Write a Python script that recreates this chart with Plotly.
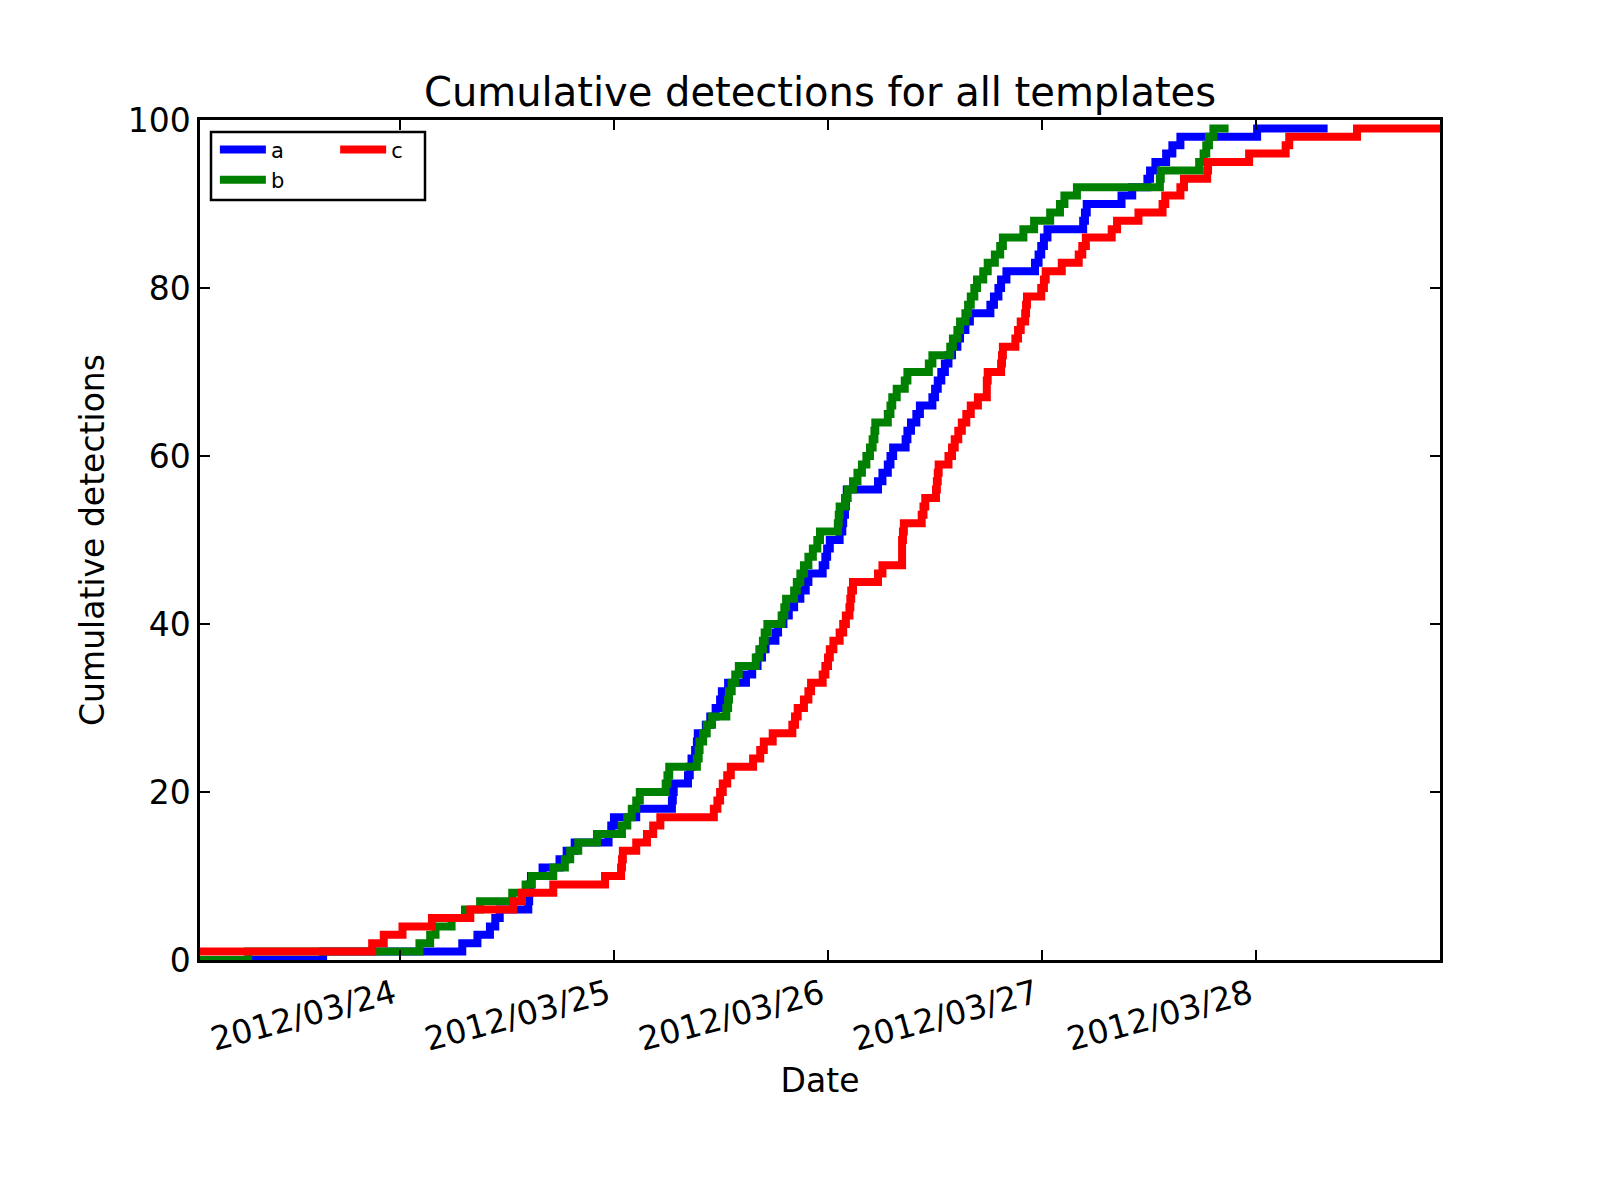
import pandas as pd
import plotly.graph_objects as go

START = pd.Timestamp("2012-03-23 00:00")

series_names = ["a", "b", "c"]
series_colors = ["#0000ff", "#008000", "#ff0000"]

# detection times (hours after 2012-03-23 00:00), one entry per detection
a_hours = [
    15.4, 31.0, 32.7, 34.1, 34.7, 35.2, 38.4, 38.5, 38.6, 38.7,
    40.0, 41.9, 42.7, 43.6, 47.4, 47.7, 48.0, 50.5, 54.5, 54.6,
    54.7, 56.3, 56.5, 56.7, 57.1, 57.3, 57.4, 58.3, 58.8, 59.4,
    59.9, 60.1, 60.8, 62.8, 63.5, 64.1, 64.6, 65.0, 66.1, 66.4,
    67.0, 67.6, 68.2, 68.9, 69.5, 69.8, 71.4, 71.7, 71.9, 72.2,
    73.3, 73.6, 73.7, 73.9, 74.0, 74.1, 77.6, 78.1, 78.7, 79.0,
    79.3, 80.7, 80.9, 81.3, 81.9, 82.3, 83.7, 84.0, 84.3, 84.7,
    85.1, 85.5, 85.9, 86.5, 86.8, 87.4, 87.9, 90.2, 90.6, 91.1,
    91.4, 92.0, 95.2, 95.6, 95.9, 96.2, 96.6, 100.6, 100.8, 101.0,
    104.9, 106.1, 107.8, 108.1, 108.7, 109.9, 110.6, 111.5, 120.1,
]
b_hours = [
    7.0, 26.2, 27.4, 28.0, 29.8, 31.3, 33.0, 36.6, 38.1, 38.8,
    41.2, 42.5, 43.1, 44.0, 46.1, 48.9, 49.5, 50.0, 50.5, 50.9,
    53.8, 54.0, 54.2, 57.3, 57.5, 57.6, 58.0, 58.4, 59.0, 60.6,
    60.8, 60.9, 61.2, 61.6, 62.0, 63.9, 64.3, 64.7, 64.9, 65.2,
    66.8, 67.1, 67.3, 68.2, 68.5, 68.9, 69.3, 69.8, 70.3, 70.8,
    71.1, 73.1, 73.2, 73.3, 73.9, 74.2, 74.8, 75.3, 75.8, 76.3,
    76.7, 77.0, 77.2, 77.3, 78.7, 79.0, 79.2, 79.7, 80.6, 80.9,
    83.3, 83.7, 85.7, 86.0, 86.5, 86.8, 87.4, 87.7, 88.0, 88.4,
    88.7, 89.4, 89.9, 90.7, 91.3, 91.6, 93.9, 95.1, 96.9, 98.0,
    98.5, 99.9, 109.2, 109.3, 113.6, 114.1, 114.4, 114.7, 115.2,
]
c_hours = [
    1.6, 20.9, 22.2, 24.3, 27.6, 31.9, 36.7, 37.7, 41.2, 47.0,
    48.8, 48.9, 49.0, 50.5, 51.7, 52.4, 53.2, 59.2, 59.6, 59.9,
    60.2, 60.7, 61.1, 63.6, 64.4, 64.8, 65.8, 68.0, 68.3, 68.6,
    69.3, 69.8, 70.1, 71.4, 71.7, 72.0, 72.2, 72.6, 73.3, 73.7,
    74.0, 74.4, 74.5, 74.6, 74.8, 77.6, 78.1, 80.3, 80.3, 80.3,
    80.4, 80.5, 82.5, 82.7, 82.9, 84.1, 84.2, 84.3, 84.4, 85.5,
    85.9, 86.2, 86.6, 87.0, 87.5, 88.0, 88.8, 89.8, 89.8, 89.9,
    91.4, 91.5, 91.6, 93.0, 93.3, 93.6, 94.1, 94.2, 94.3, 95.9,
    96.2, 96.4, 98.2, 100.1, 100.5, 100.9, 103.8, 104.4, 106.8, 109.5,
    109.8, 111.5, 111.9, 114.5, 114.6, 119.2, 123.3, 123.7, 131.3,
]
# time at which each plotted series ends (hours after START)
end_hours = [128.0, 116.9, 140.6]

x_tick_dates = ["2012-03-24", "2012-03-25", "2012-03-26", "2012-03-27", "2012-03-28"]
x_tick_labels = ["2012/03/24", "2012/03/25", "2012/03/26", "2012/03/27", "2012/03/28"]
y_ticks = [0, 20, 40, 60, 80, 100]

all_hours = [a_hours, b_hours, c_hours]
t_min = min(min(h) for h in all_hours)
t_max = max(end_hours)


def to_dt(h):
    return START + pd.Timedelta(hours=h)


FONT = "DejaVu Sans"
fig = go.Figure()
legend_ids = ["legend", "legend", "legend2"]
for name, color, hours, t_end, lg in zip(series_names, series_colors, all_hours, end_hours, legend_ids):
    hrs = sorted(hours)
    xs = []
    ys = []
    if hrs[0] > t_min:
        xs.append(to_dt(t_min))
        ys.append(0)
    for i, h in enumerate(hrs):
        xs.append(to_dt(h))
        ys.append(i + 1)
    xs.append(to_dt(t_end))
    ys.append(len(hrs))
    fig.add_trace(go.Scatter(
        x=xs, y=ys, mode="lines", name=name, legend=lg,
        line=dict(color=color, width=8, shape="hv"),
    ))

axis_common = dict(
    showline=True, linecolor="black", linewidth=2.5, mirror="ticks",
    ticks="inside", ticklen=10, tickwidth=1.5, tickcolor="black",
    showgrid=False, zeroline=False,
    tickfont=dict(family=FONT, size=33, color="black"),
)

fig.update_layout(
    width=1600, height=1200,
    margin=dict(l=200, r=160, t=120, b=240),
    paper_bgcolor="white", plot_bgcolor="white",
    font=dict(family=FONT, color="black"),
    title=dict(text="Cumulative detections for all templates",
               font=dict(family=FONT, size=40, color="black"),
               x=0.5, xref="paper", xanchor="center",
               y=1 - 92 / 1200, yref="container", yanchor="middle"),
    xaxis=dict(
        type="date", range=[to_dt(t_min), to_dt(t_max)],
        tickvals=[pd.Timestamp(d) for d in x_tick_dates], ticktext=x_tick_labels,
        tickangle=-15, ticklabelshift=-6,
        title=dict(text="Date", font=dict(family=FONT, size=33, color="black"), standoff=12),
        **axis_common,
    ),
    yaxis=dict(
        range=[0, 100], tickvals=y_ticks,
        title=dict(text="Cumulative detections", font=dict(family=FONT, size=33, color="black"), standoff=14),
        **axis_common,
    ),
    legend=dict(
        x=0.012, y=0.989, xanchor="left", yanchor="top",
        orientation="v", bgcolor="rgba(0,0,0,0)", borderwidth=0,
        font=dict(family=FONT, size=21, color="black"), traceorder="normal",
        tracegroupgap=0, itemwidth=46,
    ),
    legend2=dict(
        x=0.109, y=0.989, xanchor="left", yanchor="top",
        orientation="v", bgcolor="rgba(0,0,0,0)", borderwidth=0,
        font=dict(family=FONT, size=21, color="black"), itemwidth=46,
    ),
    shapes=[dict(
        type="rect", xref="paper", yref="paper",
        x0=(211 - 200) / 1240, x1=(425 - 200) / 1240,
        y0=1 - (200 - 120) / 840, y1=1 - (132 - 120) / 840,
        line=dict(color="black", width=2.5), fillcolor="white", layer="below",
    )],
)

fig.write_html("out.html")
